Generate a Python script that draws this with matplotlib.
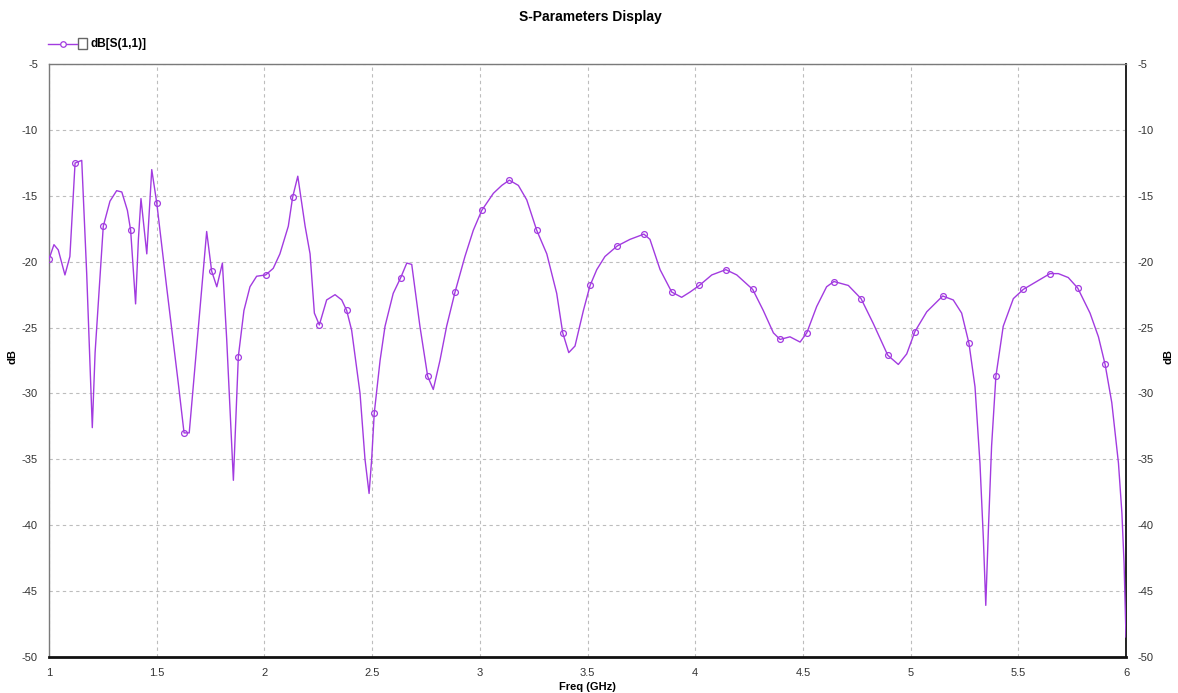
import matplotlib
matplotlib.use("Agg")
import matplotlib.pyplot as plt
from matplotlib.lines import Line2D
from matplotlib.patches import Rectangle

# ---------- data ------------------------------------------------------- #
freq_ghz = [
    1.000, 1.023, 1.043, 1.074, 1.097, 1.121, 1.152, 1.175, 1.201, 1.214,
    1.252, 1.283, 1.314, 1.338, 1.364, 1.379, 1.402, 1.415, 1.427, 1.454,
    1.477, 1.500, 1.546, 1.600, 1.627, 1.651, 1.686, 1.732, 1.755, 1.779,
    1.805, 1.825, 1.856, 1.879, 1.905, 1.933, 1.964, 2.006, 2.041, 2.072,
    2.111, 2.131, 2.155, 2.189, 2.212, 2.232, 2.255, 2.289, 2.328, 2.359,
    2.382, 2.405, 2.444, 2.467, 2.486, 2.498, 2.510, 2.537, 2.560, 2.598,
    2.633, 2.661, 2.684, 2.722, 2.758, 2.784, 2.815, 2.846, 2.885, 2.931,
    2.970, 3.009, 3.063, 3.102, 3.137, 3.179, 3.218, 3.264, 3.311, 3.357,
    3.385, 3.413, 3.442, 3.481, 3.512, 3.543, 3.581, 3.638, 3.697, 3.762,
    3.790, 3.837, 3.891, 3.937, 3.976, 4.019, 4.077, 4.142, 4.193, 4.267,
    4.316, 4.363, 4.394, 4.440, 4.487, 4.518, 4.564, 4.610, 4.644, 4.711,
    4.770, 4.827, 4.894, 4.943, 4.982, 5.020, 5.075, 5.149, 5.198, 5.237,
    5.271, 5.299, 5.322, 5.338, 5.349, 5.361, 5.376, 5.396, 5.430, 5.477,
    5.523, 5.585, 5.647, 5.686, 5.732, 5.776, 5.833, 5.872, 5.903, 5.934,
    5.965, 5.981, 5.991, 6.000,
]
s11_db = [
    -19.8, -18.7, -19.1, -21.0, -19.6, -12.5, -12.3, -20.9, -32.6, -26.9,
    -17.3, -15.4, -14.6, -14.7, -16.1, -17.6, -23.2, -18.3, -15.2, -19.4,
    -13.0, -15.5, -21.9, -29.2, -33.0, -33.0, -26.4, -17.7, -20.7, -21.9,
    -20.1, -25.9, -36.6, -27.2, -23.7, -21.9, -21.1, -21.0, -20.5, -19.4,
    -17.3, -15.1, -13.5, -17.3, -19.4, -23.9, -24.8, -22.9, -22.5, -22.9,
    -23.7, -25.2, -30.0, -35.0, -37.6, -35.0, -31.5, -27.5, -24.9, -22.4,
    -21.2, -20.1, -20.2, -24.9, -28.7, -29.7, -27.5, -24.9, -22.3, -19.6,
    -17.6, -16.1, -14.8, -14.2, -13.8, -14.2, -15.3, -17.6, -19.4, -22.4,
    -25.4, -26.9, -26.4, -23.7, -21.8, -20.6, -19.6, -18.8, -18.3, -17.9,
    -18.3, -20.6, -22.3, -22.7, -22.3, -21.8, -21.0, -20.6, -21.0, -22.1,
    -23.7, -25.4, -25.9, -25.7, -26.1, -25.4, -23.4, -21.9, -21.5, -21.8,
    -22.8, -24.7, -27.1, -27.8, -27.0, -25.3, -23.8, -22.6, -22.9, -23.9,
    -26.2, -29.5, -35.3, -41.1, -46.1, -40.4, -34.0, -28.7, -24.9, -22.8,
    -22.1, -21.5, -20.9, -20.9, -21.2, -22.0, -23.9, -25.7, -27.8, -30.7,
    -35.3, -39.1, -42.9, -48.5,
]

# circle markers on the trace
mark_freq = [
    1.000, 1.121, 1.252, 1.379, 1.500, 1.627, 1.755, 1.879, 2.006, 2.131,
    2.255, 2.382, 2.510, 2.633, 2.758, 2.885, 3.009, 3.137, 3.264, 3.385,
    3.512, 3.638, 3.762, 3.891, 4.019, 4.142, 4.267, 4.394, 4.518, 4.644,
    4.770, 4.894, 5.020, 5.149, 5.271, 5.396, 5.523, 5.647, 5.776, 5.903,
]
mark_db = [
    -19.8, -12.5, -17.3, -17.6, -15.5, -33.0, -20.7, -27.2, -21.0, -15.1,
    -24.8, -23.7, -31.5, -21.2, -28.7, -22.3, -16.1, -13.8, -17.6, -25.4,
    -21.8, -18.8, -17.9, -22.3, -21.8, -20.6, -22.1, -25.9, -25.4, -21.5,
    -22.8, -27.1, -25.3, -22.6, -26.2, -28.7, -22.1, -20.9, -22.0, -27.8,
]

x_ticks = [1, 1.5, 2, 2.5, 3, 3.5, 4, 4.5, 5, 5.5, 6]
x_tick_labels = ["1", "1.5", "2", "2.5", "3", "3.5", "4", "4.5", "5", "5.5", "6"]
y_ticks = [-5, -10, -15, -20, -25, -30, -35, -40, -45, -50]

TRACE = "#A23BE0"
plt.rcParams["font.family"] = ["Liberation Sans", "DejaVu Sans"]
plt.rcParams["axes.unicode_minus"] = False

# ---------- figure ----------------------------------------------------- #
fig = plt.figure(figsize=(11.78, 6.93), dpi=100)
ax = fig.add_axes([49 / 1178, 1 - 656.7 / 693, (1126 - 49) / 1178, (656.7 - 64.3) / 693])

ax.plot(freq_ghz, s11_db, color=TRACE, lw=1.0, zorder=3)
ax.plot(mark_freq, mark_db, ls="none", marker="o", ms=4.2, mfc="none",
        mec=TRACE, mew=0.9, zorder=4)

ax.set_xlim(1, 6)
ax.set_ylim(-50, -5)
ax.set_xticks(x_ticks)
ax.set_xticklabels(x_tick_labels)
ax.set_yticks(y_ticks)
ax.grid(True, color="#BDBDBD", ls=(0, (3, 3)), lw=0.8)
ax.tick_params(axis="both", length=0, labelsize=8, colors="#333333", pad=8)
ax.tick_params(axis="y", labelright=True, right=True)

for side in ("left", "top"):
    ax.spines[side].set_color("#7A7A7A")
    ax.spines[side].set_linewidth(1.0)
ax.spines["right"].set_color("#222222")
ax.spines["right"].set_linewidth(1.4)
ax.spines["bottom"].set_color("#111111")
ax.spines["bottom"].set_linewidth(2.0)

ax.set_xlabel("Freq (GHz)", fontsize=8, fontweight="bold", labelpad=3)
fig.text(12 / 1178, 1 - 357 / 693, "dB", rotation=90, fontsize=8,
         fontweight="bold", ha="center", va="center")
fig.text(1168 / 1178, 1 - 357 / 693, "dB", rotation=90, fontsize=8,
         fontweight="bold", ha="center", va="center")

fig.text(590 / 1178, 1 - 17 / 693, "S-Parameters Display", fontsize=10,
         fontweight="bold", ha="center", va="center")

# legend: trace sample, checkbox, label
fig.add_artist(Line2D([48 / 1178, 77 / 1178], [1 - 44 / 693] * 2,
                      color=TRACE, lw=1.0, transform=fig.transFigure))
fig.add_artist(Line2D([62.5 / 1178], [1 - 44 / 693], marker="o", ms=4,
                      mfc="white", mec=TRACE, mew=0.9, transform=fig.transFigure))
fig.add_artist(Rectangle((78 / 1178, 1 - 48.5 / 693), 9 / 1178, 10 / 693,
                         fill=False, ec="#666666", lw=1.0,
                         transform=fig.transFigure))
fig.text(91 / 1178, 1 - 44 / 693, "dB[S(1,1)]", fontsize=8.5, fontweight="bold",
         ha="left", va="center")

fig.savefig("out.png", dpi=100)
